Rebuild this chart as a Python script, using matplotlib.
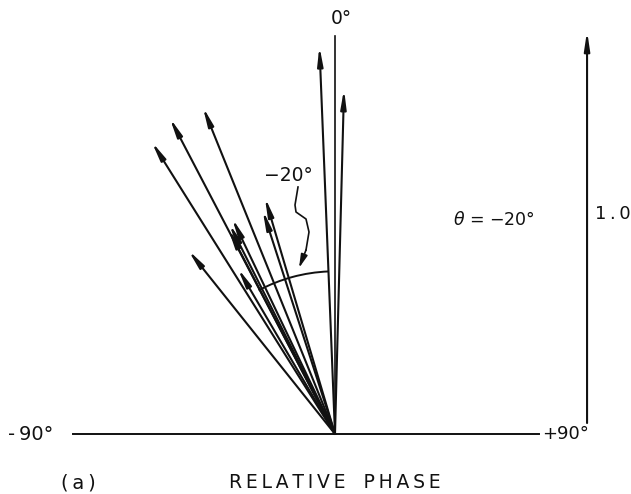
import numpy as np
import matplotlib
matplotlib.use("Agg")
import matplotlib.pyplot as plt
from matplotlib.patches import Arc

# relative phase (deg) and magnitude of each vector
fases = [-2.3, 1.5, -32.1, -27.6, -22.0, -16.5, -17.9, -25.5, -26.7, -27.5, -38.6, -30.4]
magnitudes = [0.99, 0.88, 0.88, 0.91, 0.90, 0.63, 0.60, 0.61, 0.60, 0.59, 0.60, 0.49]

theta_medio = -20
escala = 1.0

fig = plt.figure(figsize=(6.31, 4.94), dpi=100)
ax = fig.add_axes([0, 0, 1, 1])
ax.set_xlim(-335 / 392, 296 / 392)
ax.set_ylim(-60 / 392, 434 / 392)
ax.set_aspect('equal')
ax.axis('off')

negro = '#111111'
flecha = dict(arrowstyle='-|>,head_length=1.0,head_width=0.15', color=negro,
              lw=1.5, shrinkA=0, shrinkB=0, mutation_scale=11)

for ang, mag in zip(fases, magnitudes):
    r = np.radians(ang)
    ax.annotate('', xy=(mag * np.sin(r), mag * np.cos(r)), xytext=(0, 0),
                arrowprops=flecha)

# 0 deg reference line and base line
ax.plot([0, 0], [0, 1.015], color=negro, lw=1.2)
ax.plot([-0.668, 0.52], [0, 0], color=negro, lw=1.4)

# scale bar (1.0)
ax.annotate('', xy=(0.643, 0.028 + escala), xytext=(0.643, 0.028), arrowprops=flecha)

def espaciado(s):
    return '\u2009'.join(s)

ax.text(0.708, 0.56, espaciado('1.0'), fontsize=13, ha='center', va='center', color=negro)

# angle arc
ax.add_patch(Arc((0, 0), 0.83, 0.83, angle=90, theta1=2.3, theta2=28,
                 color=negro, lw=1.4))
curva_x = np.array([298, 295, 296, 306, 309, 306, 299]) - 335
curva_y = 434 - np.array([187, 205, 212, 219, 232, 250, 268])
ax.plot(curva_x[:-1] / 392, curva_y[:-1] / 392, color=negro, lw=1.2)
ax.annotate('', xy=(curva_x[-1] / 392, curva_y[-1] / 392),
            xytext=(curva_x[-2] / 392, curva_y[-2] / 392),
            arrowprops=dict(arrowstyle='-|>,head_length=0.8,head_width=0.2',
                            color=negro, lw=1.2, shrinkA=0, shrinkB=0,
                            mutation_scale=10))
ax.text(-47 / 392, 259 / 392, '\u221220\u00b0', fontsize=13.5, ha='center', va='center', color=negro)

ax.text(6 / 392, 416 / 392, '0\u00b0', fontsize=13.5, ha='center', va='center', color=negro)
ax.text(159 / 392, 214 / 392, '$\\theta$ = \u2212%d\u00b0' % abs(theta_medio), fontsize=12.5,
        ha='center', va='center', color=negro)
ax.text(-304 / 392, 0, '-\u200990\u00b0', fontsize=14, ha='center', va='center', color=negro)
ax.text(231 / 392, 0, '+90\u00b0', fontsize=13, ha='center', va='center', color=negro)
ax.text(-257 / 392, -49 / 392, '(\u2009a\u2009)', fontsize=14, ha='center', va='center', color=negro)
ax.text(0, -48 / 392, espaciado('RELATIVE') + '   ' + espaciado('PHASE'),
        fontsize=13.5, ha='center', va='center', color=negro)

plt.savefig('out.png', dpi=100)
